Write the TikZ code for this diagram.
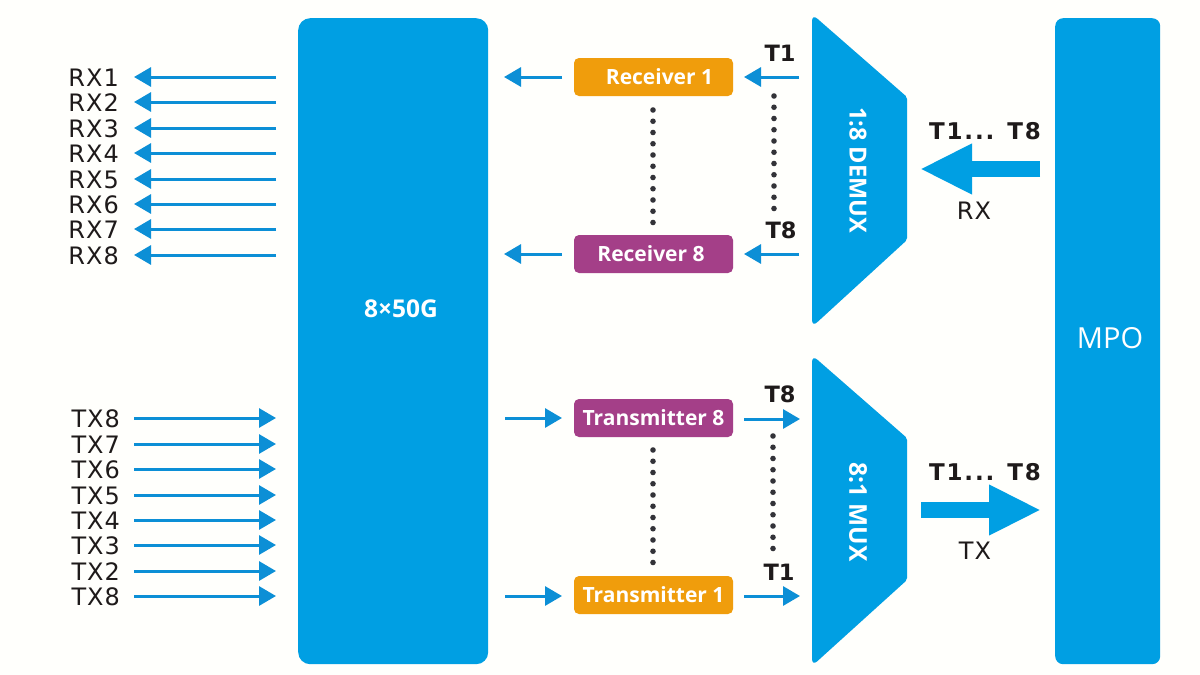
\documentclass[tikz,border=0pt]{standalone}
\usepackage{fontspec}
\setmainfont{Open Sans}
\newfontfamily\labfont[LetterSpace=4]{DejaVu Sans}
\newfontfamily\widebold[LetterSpace=8]{DejaVu Sans Bold}
\newfontfamily\boldlab{DejaVu Sans Bold}
\usetikzlibrary{arrows.meta}
\definecolor{blk}{HTML}{009FE3}
\definecolor{arr}{HTML}{0C8FD6}
\definecolor{org}{HTML}{F09D0C}
\definecolor{pur}{HTML}{A43F88}
\definecolor{txt}{HTML}{1E1A1A}
\definecolor{dot}{HTML}{333338}
\tikzset{
  x=1pt,y=-1pt,
  block/.style={fill=blk,rounded corners=12pt,anchor=north west,inner sep=0pt,text=white},
  unit/.style={rounded corners=5pt,minimum width=159pt,minimum height=38pt,inner sep=0pt,text=white,font=\fontsize{21}{23}\selectfont\bfseries},
  thin arrow/.style={draw=arr,line width=3pt,-{Triangle[length=17pt,width=19pt]}},
  big arrow/.style={draw=blk,line width=16pt,-{Triangle[length=52pt,width=47pt]}},
  lab/.style={text=txt,font=\fontsize{24}{26}\labfont,inner sep=0pt},
  tlab/.style={text=txt,font=\fontsize{22.5}{24}\boldlab,inner sep=0pt},
  wlab/.style={text=txt,font=\fontsize{23}{25}\widebold,inner sep=0pt},
  dots/.style={draw=dot,line width=5.6pt,line cap=round,dash pattern=on 0pt off 11.25pt},
  rottext/.style={text=white,rotate=-90,inner sep=0pt}
}
\begin{document}
\begin{tikzpicture}
\useasboundingbox (0,0) rectangle (1200,675);
\fill[white!99!yellow] (0,0) rectangle (1200,675);

% main blocks
\node[block,minimum width=190pt,minimum height=646pt] (core) at (298,18) {};
\node[text=white,font=\fontsize{24.5}{26}\selectfont\bfseries,inner sep=0pt] (corelab) at (401,309) {8×50G};
\node[block,rounded corners=8pt,minimum width=105pt,minimum height=646pt] (mpo) at (1055,18) {};
\node[text=white,font=\fontsize{29}{31}\selectfont,inner sep=0pt] (mpolab) at (1110,338) {MPO};

% funnels
\fill[blk] (812,170) [rounded corners=7pt] -- (812,14) [rounded corners=2pt] -- (907,97) -- (907,240) [rounded corners=7pt] -- (812,327) -- cycle;
\fill[blk] (812,510) [rounded corners=7pt] -- (812,355) [rounded corners=2pt] -- (907,438) -- (907,580) [rounded corners=7pt] -- (812,666) -- cycle;
\node[rottext,font=\fontsize{23.5}{26}\selectfont\bfseries] (demux) at (858,170) {1:8 DEMUX};
\node[rottext,font=\fontsize{24.5}{27}\selectfont\bfseries] (mux) at (858,512) {8:1 MUX};

% units
\node[unit,fill=org] (r1) at (653.5,77) {\hspace{12pt}Receiver 1};
\node[unit,fill=pur] (r8) at (653.5,254) {Receiver 8\kern5pt\relax};
\node[unit,fill=pur] (t8) at (653.5,418) {Transmitter 8};
\node[unit,fill=org] (t1) at (653.5,595) {Transmitter 1};

% client arrows
\foreach \n/\y in {1/77,2/102,3/128,4/153,5/179,6/204,7/229,8/255}{
  \node[lab,anchor=east] (rx\n) at (119,\y+1) {RX\n};
  \coordinate (rxs\n) at (276,\y);
  \coordinate (rxe\n) at (134,\y);
  \draw[thin arrow] (rxs\n) -- (rxe\n);
}
\foreach \i/\n/\y in {1/8/418,2/7/444,3/6/469,4/5/495,5/4/520,6/3/545,7/2/571,8/8/596}{
  \node[lab,anchor=east] (tx\i) at (120,\y+1) {TX\n};
  \coordinate (txe\i) at (276,\y);
  \coordinate (txs\i) at (134,\y);
  \draw[thin arrow] (txs\i) -- (txe\i);
}

% unit arrows
\coordinate (a1) at (562,77);  \coordinate (a2) at (504,77);
\coordinate (a3) at (799,77);  \coordinate (a4) at (744,77);
\coordinate (b1) at (562,254); \coordinate (b2) at (504,254);
\coordinate (b3) at (799,254); \coordinate (b4) at (744,254);
\coordinate (c1) at (505,418); \coordinate (c2) at (562,418);
\coordinate (c3) at (744,419); \coordinate (c4) at (800,419);
\coordinate (d1) at (505,596); \coordinate (d2) at (562,596);
\coordinate (d3) at (744,596); \coordinate (d4) at (800,596);
\draw[thin arrow] (a1) -- (a2);
\draw[thin arrow] (a3) -- (a4);
\draw[thin arrow] (b1) -- (b2);
\draw[thin arrow] (b3) -- (b4);
\draw[thin arrow] (c1) -- (c2);
\draw[thin arrow] (c3) -- (c4);
\draw[thin arrow] (d1) -- (d2);
\draw[thin arrow] (d3) -- (d4);

% dotted
\coordinate (p1) at (653,110); \coordinate (p2) at (653,223);
\coordinate (q1) at (774,96);  \coordinate (q2) at (774,210);
\coordinate (p3) at (653,450); \coordinate (p4) at (653,564);
\coordinate (q3) at (773,436); \coordinate (q4) at (773,550);
\draw[dots] (p1) -- (p2);
\draw[dots] (q1) -- (q2);
\draw[dots] (p3) -- (p4);
\draw[dots] (q3) -- (q4);

% T labels
\node[tlab] (lt1) at (780,53) {T1};
\node[tlab] (lt8) at (781,230) {T8};
\node[tlab] (lu8) at (780,394) {T8};
\node[tlab] (lu1) at (779,572) {T1};

% line side
\node[wlab] (rxt) at (985,131) {T1... T8};
\node[wlab] (txt) at (985,472) {T1... T8};
\node[lab] (rxl) at (974,211) {RX};
\node[lab] (txl) at (975,551) {TX};
\coordinate (e1) at (1040,169); \coordinate (e2) at (920,169);
\coordinate (f1) at (921,510);  \coordinate (f2) at (1041,510);
\draw[big arrow] (e1) -- (e2);
\draw[big arrow] (f1) -- (f2);
\end{tikzpicture}
\end{document}
